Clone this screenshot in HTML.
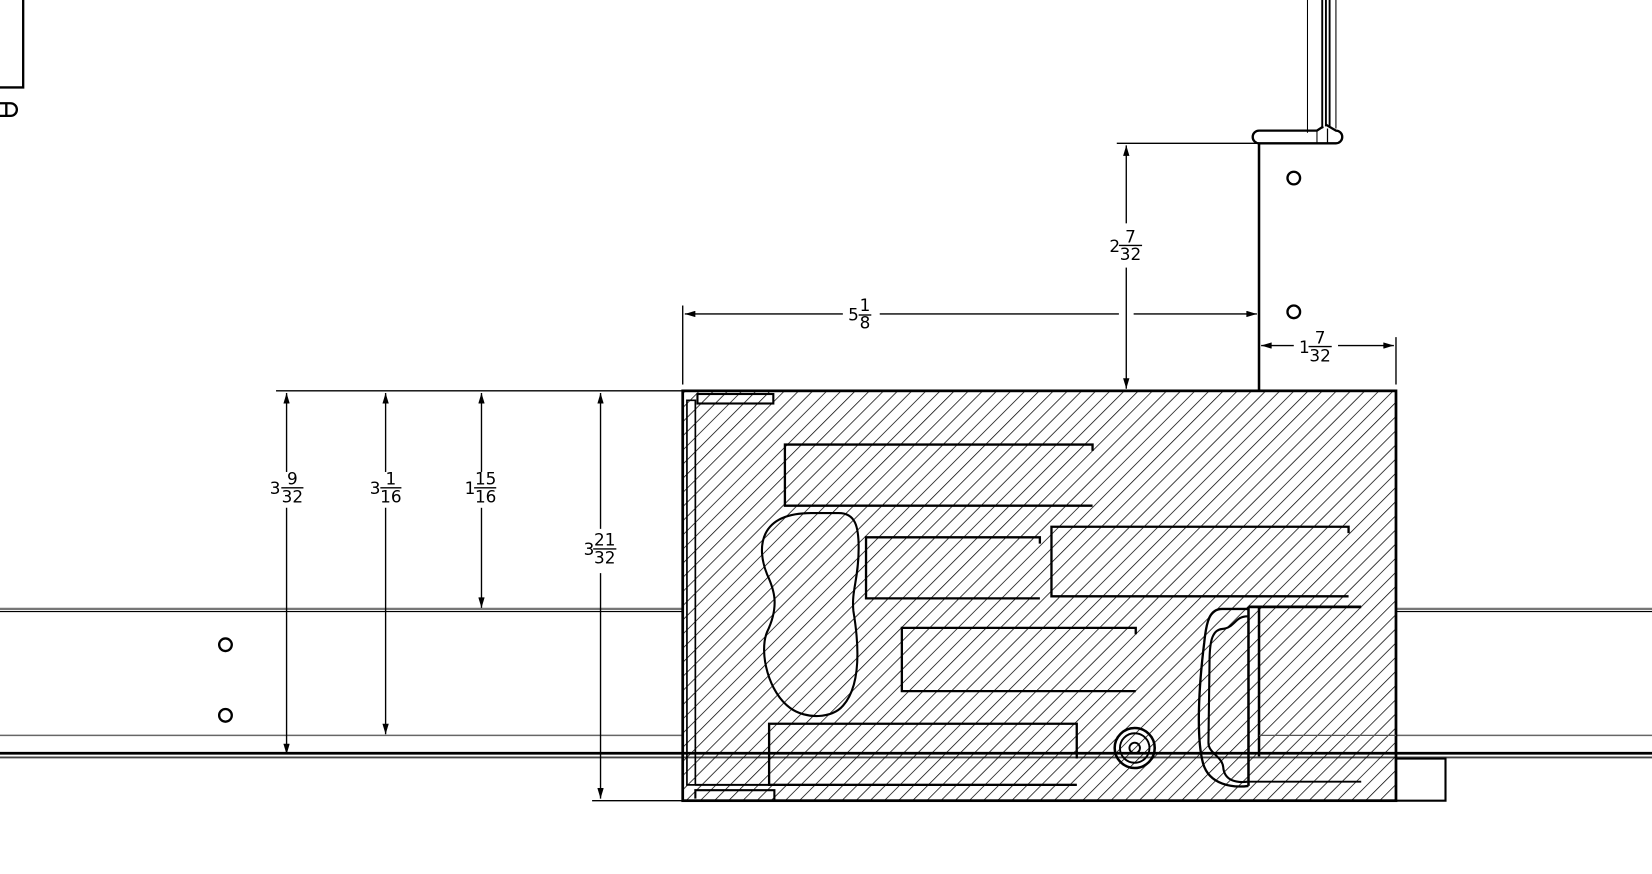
<!DOCTYPE html>
<html><head><meta charset="utf-8"><style>
html,body{margin:0;padding:0;background:#fff;}
svg{display:block}
text{font-family:"DejaVu Sans","Liberation Sans",sans-serif;fill:#000}
</style></head><body>
<svg width="1652" height="874" viewBox="0 0 1568 829.6" preserveAspectRatio="none" xmlns="http://www.w3.org/2000/svg">
<defs>
<pattern id="h" patternUnits="userSpaceOnUse" width="9.5" height="10" patternTransform="rotate(45)">
<line x1="0" y1="0" x2="0" y2="10" stroke="#000" stroke-width="1.4"/>
</pattern>
<marker id="a" viewBox="0 0 10 6" refX="10" refY="3" markerWidth="17" markerHeight="6" markerUnits="userSpaceOnUse" orient="auto-start-reverse">
<path d="M0,0 L10,3 L0,6 z" fill="#000"/>
</marker>
</defs>
<g fill="none" stroke="#000">
<path d="M22,0 V83 H0" stroke-width="2.2"/>
<path d="M0,98 H10 A6,6 0 0 1 10,110 H0 M6,98 V110" stroke-width="2.2"/>

<line x1="0" y1="578" x2="648" y2="578" stroke="#777" stroke-width="2.2"/>
<line x1="0" y1="580.5" x2="648" y2="580.5" stroke="#000" stroke-width="1"/>
<line x1="1325" y1="578" x2="1568" y2="578" stroke="#777" stroke-width="2.2"/>
<line x1="1325" y1="580.5" x2="1568" y2="580.5" stroke="#000" stroke-width="1"/>
<line x1="0" y1="698" x2="648" y2="698" stroke="#666" stroke-width="1.5"/>
<line x1="1325" y1="698" x2="1568" y2="698" stroke="#666" stroke-width="1.5"/>
<line x1="0" y1="715" x2="1568" y2="715" stroke="#000" stroke-width="2.6"/>
<line x1="0" y1="719" x2="1568" y2="719" stroke="#444" stroke-width="1.8"/>
<path d="M1325,720 H1372 V760 H1325" stroke-width="2"/>

<circle cx="214" cy="612" r="6" stroke-width="2.2"/>
<circle cx="214" cy="679" r="6" stroke-width="2.2"/>
<circle cx="1228" cy="169" r="6" stroke-width="2.2"/>
<circle cx="1228" cy="296" r="6" stroke-width="2.2"/>

<line x1="1195" y1="136" x2="1195" y2="371" stroke-width="2.4"/>
<path d="M1195,136 H1268 A6,6 0 0 0 1268,124 L1258,118 M1195,136 A6,6 0 0 1 1195,124 H1250 L1256,120" stroke-width="2.2"/>
<line x1="1241" y1="0" x2="1241" y2="126" stroke-width="1"/>
<line x1="1255" y1="0" x2="1255" y2="122" stroke-width="1.8"/>
<line x1="1258.5" y1="0" x2="1258.5" y2="120" stroke-width="1.8"/>
<line x1="1262" y1="0" x2="1262" y2="120" stroke-width="1.8"/>
<line x1="1268" y1="0" x2="1268" y2="122" stroke-width="1"/>
<line x1="1250" y1="124" x2="1250" y2="136" stroke-width="1"/>
<line x1="1260" y1="122" x2="1260" y2="136" stroke-width="1.2"/>

<rect x="648" y="371" width="677" height="389" fill="url(#h)" stroke="none"/>
<rect x="648" y="371" width="677" height="389" stroke-width="2.6"/>

<g stroke-width="2.2">
<path d="M655,380 H652 V745 H660 V380 Z" stroke-width="1.6"/>
<rect x="662" y="374" width="72" height="9" stroke-width="2"/>
<path d="M660,758 V750 H735 V760" stroke-width="2"/>
<path d="M745,428 V422 H1037 V428 M745,422 V480 H1037"/>
<path d="M822,516 V510 H987 V516 M822,510 V568 H987"/>
<path d="M998,506 V500 H1280 V506 M998,500 V566 H1280"/>
<path d="M856,602 V596 H1078 V602 M856,596 V656 H1078"/>
<path d="M730,693 V687 H1022 V720 M730,687 V745 H1022"/>
<path d="M770,487 H796 C812,487 815,500 815,520 C815,550 808,560 810,580 C815,610 818,650 800,670 C790,682 765,683 750,672 C730,658 720,620 728,600 C740,575 735,560 728,545 C718,520 720,487 770,487 Z" stroke-width="2"/>
<circle cx="1077" cy="710" r="19" stroke-width="2.4"/>
<circle cx="1077" cy="710" r="14" stroke-width="1.8"/>
<circle cx="1077" cy="710" r="5" stroke-width="1.8"/>
<path d="M1185,578 L1160,578 C1148,578 1145,590 1143,610 C1138,650 1135,700 1142,725 C1148,745 1170,748 1185,746"/>
<path d="M1184,585 C1172,585 1172,596 1160,597 C1150,598 1148,610 1148,630 L1147,705 C1147,715 1160,718 1161,728 C1162,742 1175,743 1184,742" stroke-width="2"/>
<line x1="1185" y1="576" x2="1185" y2="746" stroke-width="2.4"/>
<line x1="1195" y1="576" x2="1195" y2="718" stroke-width="2.4"/>
<line x1="1185" y1="576" x2="1292" y2="576" stroke-width="2.6"/>
<line x1="1195" y1="698" x2="1325" y2="698" stroke-width="1.2" stroke="#555"/>
<line x1="1185" y1="742" x2="1292" y2="742" stroke-width="1.8"/>
<line x1="660" y1="745" x2="1022" y2="745" stroke-width="1.8"/>
</g>

<g stroke-width="1.3">
<line x1="262" y1="371" x2="648" y2="371"/>
<line x1="562" y1="760" x2="648" y2="760"/>
<line x1="272" y1="373" x2="272" y2="448" marker-start="url(#a)"/>
<line x1="272" y1="482" x2="272" y2="716" marker-end="url(#a)"/>
<line x1="366" y1="373" x2="366" y2="448" marker-start="url(#a)"/>
<line x1="366" y1="482" x2="366" y2="697" marker-end="url(#a)"/>
<line x1="457" y1="373" x2="457" y2="448" marker-start="url(#a)"/>
<line x1="457" y1="482" x2="457" y2="577" marker-end="url(#a)"/>
<line x1="570" y1="373" x2="570" y2="502" marker-start="url(#a)"/>
<line x1="570" y1="544" x2="570" y2="758" marker-end="url(#a)"/>

<line x1="648" y1="290" x2="648" y2="365"/>
<line x1="650" y1="298" x2="800" y2="298" marker-start="url(#a)"/>
<line x1="835" y1="298" x2="1062" y2="298"/>
<line x1="1076" y1="298" x2="1193" y2="298" marker-end="url(#a)"/>

<line x1="1060" y1="136" x2="1193" y2="136"/>
<line x1="1069" y1="138" x2="1069" y2="212" marker-start="url(#a)"/>
<line x1="1069" y1="254" x2="1069" y2="369" marker-end="url(#a)"/>

<line x1="1325" y1="320" x2="1325" y2="365"/>
<line x1="1197" y1="328" x2="1228" y2="328" marker-start="url(#a)"/>
<line x1="1270" y1="328" x2="1323" y2="328" marker-end="url(#a)"/>

<line x1="267" y1="463" x2="288" y2="463"/>
<line x1="361" y1="463" x2="381" y2="463"/>
<line x1="450" y1="463" x2="471" y2="463"/>
<line x1="563" y1="521" x2="585" y2="521"/>
<line x1="815" y1="299" x2="827" y2="299"/>
<line x1="1062" y1="233" x2="1084" y2="233"/>
<line x1="1242" y1="329" x2="1264" y2="329"/>
</g>
</g>

<g font-size="16">
<text x="256" y="469">3</text><text x="277.5" y="460" text-anchor="middle">9</text><text x="277.5" y="477" text-anchor="middle">32</text>
<text x="351" y="469">3</text><text x="371" y="460" text-anchor="middle">1</text><text x="371" y="477" text-anchor="middle">16</text>
<text x="441" y="469">1</text><text x="461" y="460" text-anchor="middle">15</text><text x="461" y="477" text-anchor="middle">16</text>
<text x="554" y="527">3</text><text x="574" y="518" text-anchor="middle">21</text><text x="574" y="535" text-anchor="middle">32</text>
<text x="805" y="304">5</text><text x="821" y="295" text-anchor="middle">1</text><text x="821" y="312" text-anchor="middle">8</text>
<text x="1053" y="239">2</text><text x="1073" y="230" text-anchor="middle">7</text><text x="1073" y="247" text-anchor="middle">32</text>
<text x="1233" y="335">1</text><text x="1253" y="326" text-anchor="middle">7</text><text x="1253" y="343" text-anchor="middle">32</text>
</g>
</svg>
</body></html>
